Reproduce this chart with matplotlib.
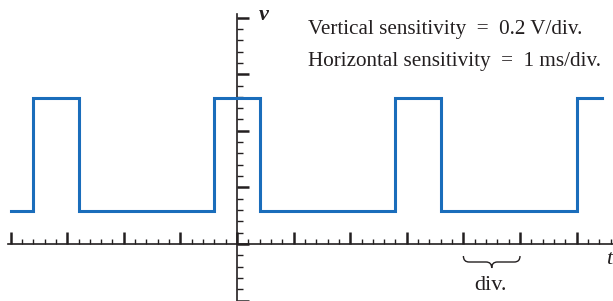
import numpy as np
import matplotlib
matplotlib.use("Agg")
import matplotlib.pyplot as plt
from matplotlib.path import Path
from matplotlib.patches import PathPatch
from matplotlib.ticker import FixedLocator

# --- data (in divisions) ---
edge_times = [-4.0, -3.6, -2.8, -0.4, 0.4, 2.8, 3.6, 6.0, 6.45]
levels     = [0.58, 2.58, 0.58, 2.58, 0.58, 2.58, 0.58, 2.58, 2.58]
x_major = [-4, -3, -2, -1, 0, 1, 2, 3, 4, 5, 6]
y_major = [-1, 0, 1, 2, 3, 4]
line1 = "Vertical sensitivity  =  0.2 V/div."
line2 = "Horizontal sensitivity  =  1 ms/div."

W, H, DPI = 6.13, 3.01, 100
PX = 56.6           # pixels per division
OX, OY = 237, 244   # origin in pixels (from top-left)

fig = plt.figure(figsize=(W, H), dpi=DPI)
ax = fig.add_axes([0, 0, 1, 1])
ax.set_xlim(-OX / PX, (W * DPI - OX) / PX)
ax.set_ylim(-(H * DPI - OY) / PX, OY / PX)

axis_col = "#231f20"
blue = "#1a6dbb"

# spines through origin
for s in ("top", "right"):
    ax.spines[s].set_visible(False)
ax.spines["bottom"].set_position(("data", 0))
ax.spines["left"].set_position(("data", 0))
ax.spines["bottom"].set_bounds(-4.04, ax.get_xlim()[1])
ax.spines["left"].set_bounds(-1.0, 4.07)
for s in ("bottom", "left"):
    ax.spines[s].set_color(axis_col)
    ax.spines[s].set_linewidth(1.2)
ax.patch.set_visible(False)

x_minor = np.round(np.arange(-4.0, 6.61, 0.2), 2)
y_minor = np.round(np.arange(-1.0, 4.01, 0.2), 2)
ax.xaxis.set_major_locator(FixedLocator(x_major))
ax.xaxis.set_minor_locator(FixedLocator(x_minor))
ax.yaxis.set_major_locator(FixedLocator(y_major))
ax.yaxis.set_minor_locator(FixedLocator(y_minor))
ax.tick_params(axis="both", which="both", direction="in", labelbottom=False,
               labelleft=False, color=axis_col)
ax.tick_params(axis="x", which="major", length=8.4, width=1.8)
ax.tick_params(axis="x", which="minor", length=3.6, width=1.0)
ax.tick_params(axis="y", which="major", length=8.6, width=1.8)
ax.tick_params(axis="y", which="minor", length=4.2, width=1.0)

# signal
ax.plot(edge_times, levels, drawstyle="steps-post", color=blue, lw=2.2,
        solid_joinstyle="miter", zorder=3)

def px2d(px, py):
    return (px - OX) / PX, (OY - py) / PX

serif = "Liberation Serif"
x, y = px2d(308, 34)
ax.text(x, y, line1, family=serif, fontsize=15.25, va="baseline", ha="left", color=axis_col)
x, y = px2d(308, 66)
ax.text(x, y, line2, family=serif, fontsize=15.25, va="baseline", ha="left", color=axis_col)
x, y = px2d(264, 15)
ax.text(x, y, "v", family=serif, style="italic", weight="bold", fontsize=16,
        va="center", ha="center", color=axis_col)
x, y = px2d(609, 259)
ax.text(x, y, "t", family=serif, style="italic", fontsize=16,
        va="center", ha="center", color=axis_col)
x, y = px2d(490, 290)
ax.text(x, y, "div.", family=serif, fontsize=16, va="baseline", ha="center", color=axis_col)

# brace under one division
b0, b1 = 4.0, 5.0
bm = (b0 + b1) / 2
yt, yf, yd = px2d(0, 256)[1], px2d(0, 262)[1], px2d(0, 268)[1]
d = 0.1
verts = [(b0, yt), (b0, yf), (b0 + d, yf),
         (bm - d, yf),
         (bm, yf), (bm, yd),
         (bm, yf), (bm + d, yf),
         (b1 - d, yf),
         (b1, yf), (b1, yt)]
codes = [Path.MOVETO, Path.CURVE3, Path.CURVE3,
         Path.LINETO,
         Path.CURVE3, Path.CURVE3,
         Path.CURVE3, Path.CURVE3,
         Path.LINETO,
         Path.CURVE3, Path.CURVE3]
ax.add_patch(PathPatch(Path(verts, codes), fill=False, lw=1.0, color=axis_col))

fig.savefig("out.png", dpi=DPI)
